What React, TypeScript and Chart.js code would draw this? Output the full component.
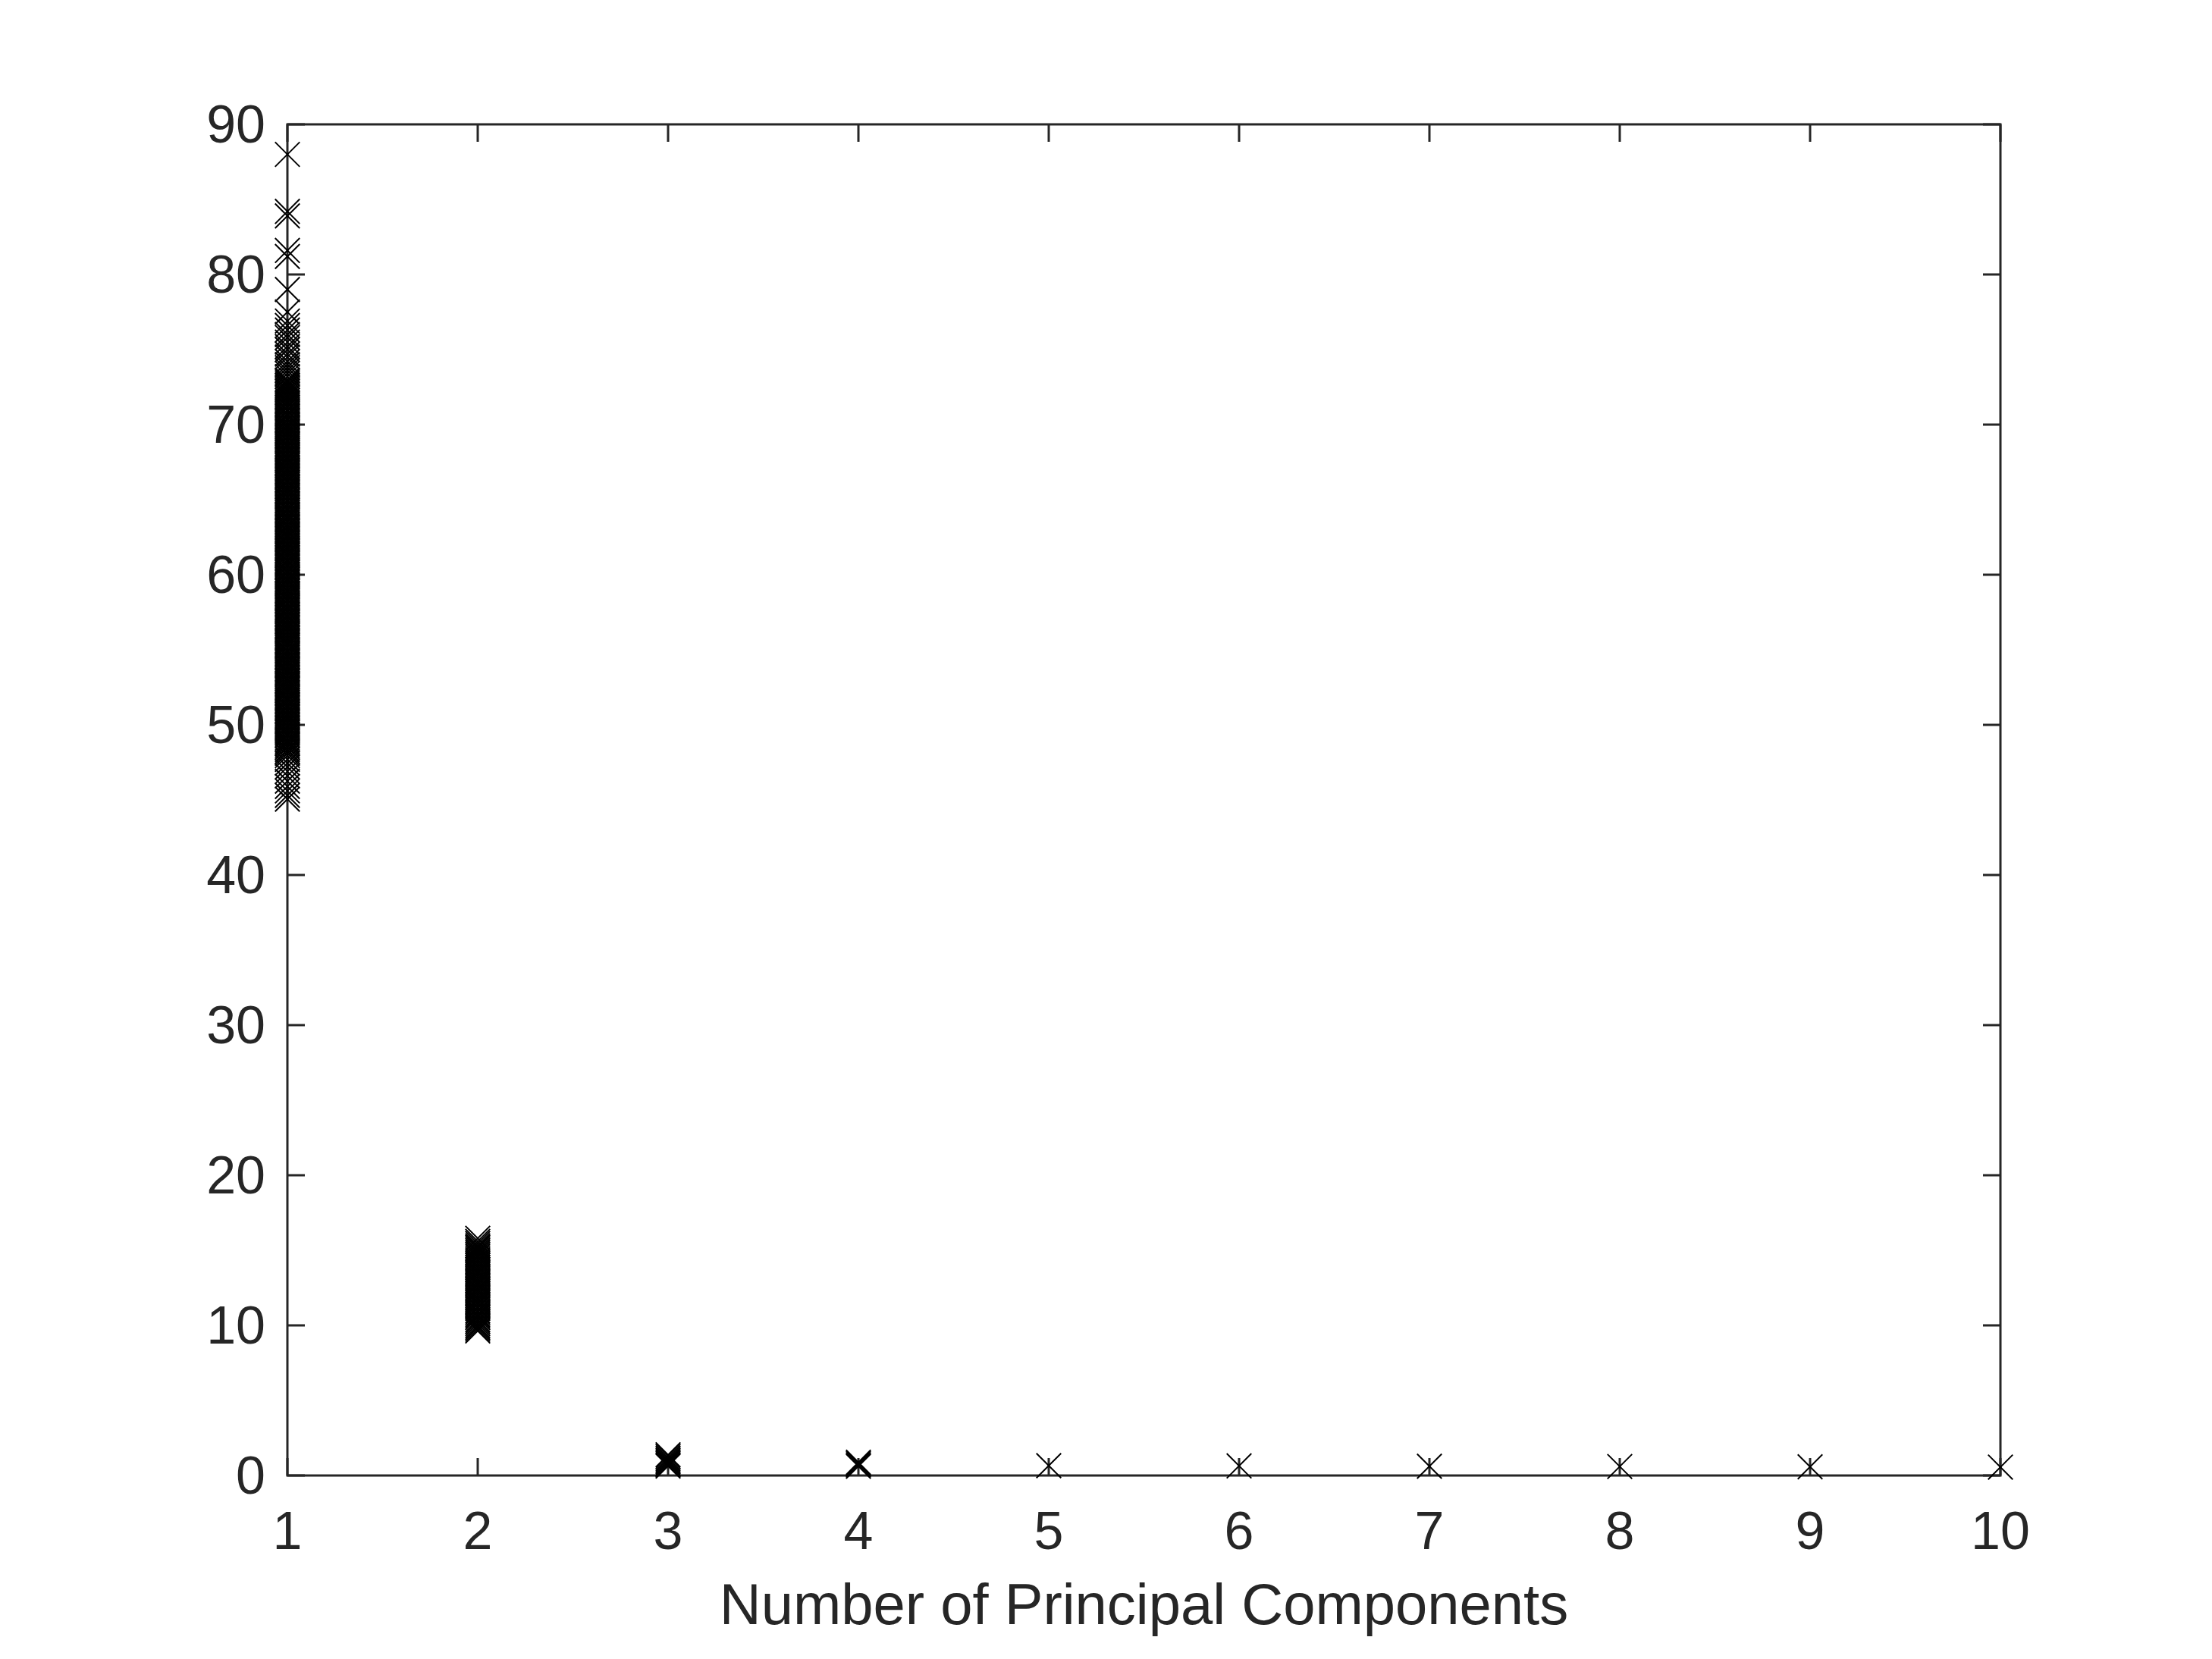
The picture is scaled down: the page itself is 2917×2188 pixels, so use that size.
import { useEffect, useRef } from "react";
import { Chart, registerables } from "chart.js";

Chart.register(...registerables);

// Number of principal components (x categories)
const componentCategories = [1, 2, 3, 4, 5, 6, 7, 8, 9, 10];

// Explained variance (%) observed for each component count
const pc1Values = [
  88.0, 84.2, 83.9, 81.6, 81.2, 79.0, 77.5, 76.9, 76.6, 76.3, 76.0, 75.8, 75.5, 75.2, 75.0,
  74.7, 74.5, 74.2, 74.0, 73.8, 73.6, 73.4, 73.2,
  72.97, 72.85, 72.73, 72.6, 72.49, 72.36, 72.24, 72.12,
  71.99, 71.87, 71.76, 71.62, 71.5, 71.38, 71.25, 71.13,
  70.98, 70.88, 70.74, 70.63, 70.51, 70.37, 70.26, 70.12,
  69.99, 69.86, 69.75, 69.61, 69.5, 69.38, 69.24, 69.13,
  68.98, 68.87, 68.73, 68.62, 68.51, 68.37, 68.25, 68.12,
  67.99, 67.86, 67.74, 67.63, 67.49, 67.38, 67.26, 67.11,
  66.98, 66.87, 66.75, 66.62, 66.5, 66.36, 66.25, 66.13,
  65.99, 65.86, 65.73, 65.61, 65.5, 65.38, 65.24, 65.12,
  64.98, 64.88, 64.74, 64.62, 64.49, 64.37, 64.26, 64.12,
  63.99, 63.86, 63.75, 63.63, 63.51, 63.36, 63.24, 63.13,
  62.98, 62.87, 62.73, 62.61, 62.5, 62.38, 62.25, 62.11,
  61.99, 61.86, 61.74, 61.62, 61.49, 61.37, 61.26, 61.12,
  60.98, 60.87, 60.75, 60.63, 60.51, 60.36, 60.24, 60.13,
  59.99, 59.86, 59.73, 59.62, 59.5, 59.38, 59.25, 59.12,
  58.98, 58.88, 58.74, 58.61, 58.49, 58.37, 58.26, 58.11,
  57.99, 57.86, 57.75, 57.63, 57.51, 57.36, 57.24, 57.13,
  56.98, 56.87, 56.73, 56.62, 56.5, 56.38, 56.25, 56.12,
  55.99, 55.86, 55.74, 55.61, 55.49, 55.37, 55.26, 55.13,
  54.98, 54.87, 54.75, 54.63, 54.51, 54.36, 54.24, 54.12,
  53.99, 53.86, 53.73, 53.62, 53.5, 53.38, 53.25, 53.11,
  52.98, 52.88, 52.74, 52.61, 52.49, 52.37, 52.26, 52.13,
  51.99, 51.86, 51.75, 51.63, 51.51, 51.36, 51.24, 51.12,
  50.98, 50.87, 50.73, 50.62, 50.5, 50.38, 50.25, 50.13,
  49.99, 49.86, 49.74, 49.61, 49.49, 49.37, 49.26, 49.12,
  48.98, 48.87, 48.75, 48.63, 48.51, 48.36, 48.24, 48.11,
  47.95, 47.7, 47.45, 47.2, 46.9, 46.6, 46.25, 45.9, 45.6, 45.3, 45.05,
];
const pc2Values = [
  15.8, 15.6, 15.45, 15.3, 15.2, 15.1,
  14.98, 14.86, 14.75, 14.62, 14.5, 14.37, 14.25, 14.13,
  13.99, 13.87, 13.74, 13.62, 13.5, 13.38, 13.25, 13.12,
  12.98, 12.87, 12.75, 12.63, 12.49, 12.37, 12.26, 12.12,
  11.99, 11.86, 11.74, 11.62, 11.5, 11.38, 11.24, 11.13,
  10.98, 10.87, 10.73, 10.62, 10.51, 10.37, 10.25, 10.12,
  9.99, 9.87, 9.75, 9.63,
];
const pc3Values = [1.38, 1.26, 1.14, 1.02, 0.92, 0.82, 0.72, 0.63];
const pc4Values = [0.88, 0.79, 0.7, 0.62];
const pc5Values = [0.66];
const pc6Values = [0.64];
const pc7Values = [0.62];
const pc8Values = [0.6];
const pc9Values = [0.58];
const pc10Values = [0.56];

const xTickLabels = ["1", "2", "3", "4", "5", "6", "7", "8", "9", "10"];
const yTickValues = [0, 10, 20, 30, 40, 50, 60, 70, 80, 90];
const xAxisTitle = "Number of Principal Components";

const AXIS_COLOR = "#262626";
const FONT_FAMILY = "'Liberation Sans', Arial, Helvetica, sans-serif";

export default function App() {
  const canvasRef = useRef<HTMLCanvasElement | null>(null);

  useEffect(() => {
    const canvas = canvasRef.current;
    if (!canvas) return;

    const series = [
      pc1Values, pc2Values, pc3Values, pc4Values, pc5Values,
      pc6Values, pc7Values, pc8Values, pc9Values, pc10Values,
    ];
    const points: { x: number; y: number }[] = [];
    series.forEach((vals, i) => {
      vals.forEach((v) => points.push({ x: componentCategories[i], y: v }));
    });

    const tickLen = 23;
    const boxPlugin = {
      id: "matlabBox",
      beforeDatasetsDraw(chart: any) {
        const { ctx, chartArea, scales } = chart;
        const { left, right, top, bottom } = chartArea;
        ctx.save();
        ctx.strokeStyle = AXIS_COLOR;
        ctx.lineWidth = 3;
        ctx.lineCap = "butt";
        ctx.beginPath();
        ctx.rect(left, top, right - left, bottom - top);
        ctx.stroke();
        ctx.beginPath();
        componentCategories.forEach((c) => {
          const px = scales.x.getPixelForValue(c);
          ctx.moveTo(px, bottom);
          ctx.lineTo(px, bottom - tickLen);
          ctx.moveTo(px, top);
          ctx.lineTo(px, top + tickLen);
        });
        yTickValues.forEach((v) => {
          const py = scales.y.getPixelForValue(v);
          ctx.moveTo(left, py);
          ctx.lineTo(left + tickLen, py);
          ctx.moveTo(right, py);
          ctx.lineTo(right - tickLen, py);
        });
        ctx.stroke();
        ctx.restore();
      },
    };

    const chart = new Chart(canvas, {
      type: "scatter",
      data: {
        datasets: [
          {
            data: points,
            pointStyle: "crossRot",
            pointRadius: 23,
            pointHoverRadius: 23,
            pointBorderWidth: 2,
            borderColor: "#000000",
            backgroundColor: "#000000",
            clip: false as any,
          },
        ],
      },
      options: {
        responsive: false,
        animation: false,
        events: [],
        layout: { padding: { left: 0, right: 279, top: 164, bottom: 0 } },
        plugins: {
          legend: { display: false },
          tooltip: { enabled: false },
        },
        scales: {
          x: {
            type: "linear",
            min: 1,
            max: 10,
            afterBuildTicks: (scale: any) => {
              scale.ticks = componentCategories.map((c) => ({ value: c }));
            },
            ticks: {
              autoSkip: false,
              maxRotation: 0,
              padding: 36,
              color: AXIS_COLOR,
              font: { family: FONT_FAMILY, size: 70 },
              callback: (_v: any, i: number) => xTickLabels[i],
            },
            grid: { display: false, drawTicks: false },
            border: { display: false },
            title: {
              display: true,
              text: xAxisTitle,
              color: AXIS_COLOR,
              font: { family: FONT_FAMILY, size: 76 },
              padding: { top: 0, bottom: 21 },
            },
            afterFit: (scale: any) => {
              scale.height = 242;
            },
          },
          y: {
            type: "linear",
            min: 0,
            max: 90,
            afterBuildTicks: (scale: any) => {
              scale.ticks = yTickValues.map((v) => ({ value: v }));
            },
            ticks: {
              padding: 29,
              labelOffset: 5,
              color: AXIS_COLOR,
              font: { family: FONT_FAMILY, size: 70 },
              callback: (v: any) => String(v),
            },
            grid: { display: false, drawTicks: false },
            border: { display: false },
            afterFit: (scale: any) => {
              scale.width = 379;
            },
          },
        },
      },
      plugins: [boxPlugin],
    });

    return () => {
      chart.destroy();
    };
  }, []);

  return (
    <div
      style={{
        position: "fixed",
        left: 0,
        top: 0,
        width: 2917,
        height: 2188,
        background: "#ffffff",
      }}
    >
      <canvas ref={canvasRef} width={2917} height={2188} style={{ display: "block" }} />
    </div>
  );
}
